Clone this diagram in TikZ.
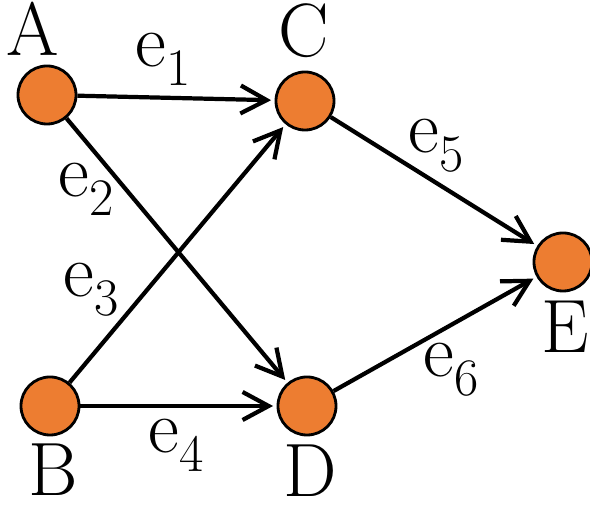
\documentclass[tikz,border=0pt]{standalone}
\usepackage{xcolor}
\usepackage{tikz}
\usetikzlibrary{arrows.meta, positioning}

\definecolor{vorange}{RGB}{237,125,49}
\newcommand{\elab}[1]{e\raisebox{-0.25em}{\fontsize{15}{15}\selectfont #1}}

\begin{document}
\begin{tikzpicture}[
    x=0.01cm, y=-0.01cm,
    vert/.style={circle, draw, line width=0.8pt, fill=vorange, minimum size=0.58cm, inner sep=0pt},
    lab/.style={font=\fontsize{21.5}{21.5}\selectfont, inner sep=0pt},
    arrow/.style={-{Straight Barb[length=2.6mm, width=2.8mm, line width=1.2pt]}, line width=1.2pt, shorten >=1pt}
]
    \useasboundingbox (0,0) rectangle (590,507);

    % Vertices
    \node[vert] (a) at (47,95) {};
    \node[vert] (c) at (305,101) {};
    \node[vert] (e) at (563,262) {};
    \node[vert] (b) at (50,406) {};
    \node[vert] (d) at (307,406) {};

    % Vertex names (baselines)
    \node[lab, anchor=base] (la) at (33,56) {A};
    \node[lab, anchor=base] (lc) at (304,57) {C};
    \node[lab, anchor=base] (le) at (565,353) {E};
    \node[lab, anchor=base] (lb) at (53,496) {B};
    \node[lab, anchor=base] (ld) at (310,497) {D};

    % Edges
    \draw[arrow] (a) -- (c);
    \draw[arrow] (a) -- (d);
    \draw[arrow] (b) -- (c);
    \draw[arrow] (b) -- (d);
    \draw[arrow] (c) -- (e);
    \draw[arrow] (d) -- (e);

    % Edge names
    \node[lab, anchor=base west] (l1) at (135,67) {\elab{1}};
    \node[lab, anchor=base west] (l2) at (58,197) {\elab{2}};
    \node[lab, anchor=base west] (l3) at (63,297) {\elab{3}};
    \node[lab, anchor=base west] (l4) at (148,453) {\elab{4}};
    \node[lab, anchor=base west] (l5) at (408,153) {\elab{5}};
    \node[lab, anchor=base west] (l6) at (423,377) {\elab{6}};
\end{tikzpicture}
\end{document}
